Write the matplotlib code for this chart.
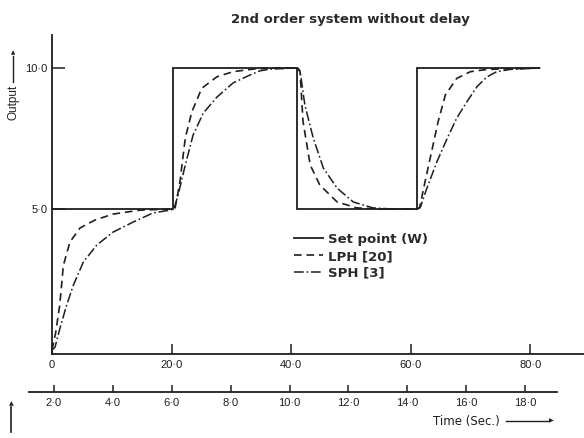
import matplotlib.pyplot as plt

plt.rcParams['lines.scale_dashes'] = False

# set point: levels held between switching instants
sp_edges = [0, 20.2, 41.0, 61.0, 81.7]
sp_levels = [5.0, 10.0, 5.0, 10.0]

# long prediction horizon response
lph_t = [0, 0.6, 1.3, 1.9, 3.0, 4.7, 7.2, 10.2, 14.7, 20.3,
         20.6, 21.4, 22.3, 23.4, 25.05, 27.6, 30.3, 33.6, 37.0, 41.1,
         41.5, 42.0, 43.2, 44.8, 47.7, 51.0, 54.9, 61.1,
         61.5, 62.4, 63.5, 64.6, 65.8, 67.7, 70.0, 72.8, 81.7]
lph_y = [0, 0.6, 1.6, 3.0, 3.83, 4.33, 4.61, 4.82, 4.96, 5.0,
         5.04, 5.96, 7.52, 8.45, 9.28, 9.69, 9.87, 9.96, 10.0, 10.0,
         9.86, 8.09, 6.56, 5.85, 5.25, 5.04, 5.0, 5.0,
         5.05, 5.96, 7.03, 8.1, 9.04, 9.63, 9.87, 9.95, 10.0]

# short prediction horizon response
sph_t = [0, 0.5, 1.34, 2.46, 3.57, 5.24, 7.48, 10.2, 13.6, 16.9, 19.7,
         20.4, 21.1, 22.3, 23.6, 25.3, 27.6, 30.3, 33.1, 34.8, 36.5, 41.1,
         41.5, 42.3, 43.7, 45.4, 47.7, 50.4, 53.7, 57.1, 61.1,
         61.6, 62.7, 64.4, 66.1, 67.7, 69.4, 71.1, 72.8, 74.4, 76.7, 81.7]
sph_y = [0, 0.1, 0.78, 1.6, 2.3, 3.12, 3.72, 4.18, 4.54, 4.86, 4.96,
         5.0, 5.5, 6.56, 7.62, 8.4, 8.97, 9.47, 9.75, 9.9, 9.96, 10.0,
         9.9, 8.69, 7.52, 6.45, 5.74, 5.25, 5.04, 5.0, 5.0,
         5.05, 5.73, 6.68, 7.5, 8.22, 8.8, 9.34, 9.69, 9.87, 9.95, 10.0]

top_ticks = [0, 20, 40, 60, 80]
top_labels = ['0', '20·0', '40·0', '60·0', '80·0']
y_ticks = [5, 10]
y_labels = ['5·0', '10·0']
time_ticks = [2, 4, 6, 8, 10, 12, 14, 16, 18]
time_labels = ['2·0', '4·0', '6·0', '8·0', '10·0', '12·0', '14·0', '16·0', '18·0']

INK = '#1e1e1e'
NUM_FONT = ['Liberation Sans Narrow', 'Liberation Sans', 'DejaVu Sans']
W, H = 584, 438


def fx(px):
    return px / W


def fy(py):
    return 1 - py / H


fig = plt.figure(figsize=(5.84, 4.38), dpi=100)

ax = fig.add_axes([fx(52), fy(354), fx(584) - fx(52), fy(35) - fy(354)])
ax.set_xlim(0, 89.0)
ax.set_ylim(-0.14, 11.17)
ax.patch.set_alpha(0)
for side in ('top', 'right'):
    ax.spines[side].set_visible(False)
for side in ('left', 'bottom'):
    ax.spines[side].set_linewidth(1.3)
    ax.spines[side].set_color(INK)

ax.stairs(sp_levels, sp_edges, baseline=None, color=INK, lw=1.3,
          label='Set point (W)')
ax.plot(lph_t, lph_y, color=INK, lw=1.2, linestyle=(0, (5.5, 3.5)),
        label='LPH [20]')
ax.plot(sph_t, sph_y, color=INK, lw=1.1,
        linestyle=(0, (7, 2, 1.2, 2)), label='SPH [3]')

ax.set_xticks(top_ticks, top_labels)
ax.set_yticks(y_ticks, y_labels)
ax.tick_params(axis='x', direction='in', length=7, width=1.1, pad=4,
               colors=INK, labelsize=8)
ax.tick_params(axis='y', direction='in', length=9, width=1.1, pad=3,
               colors=INK, labelsize=8)
for lab in ax.get_xticklabels() + ax.get_yticklabels():
    lab.set_family(NUM_FONT)

leg = ax.legend(loc='upper left', bbox_to_anchor=(fx(294), fy(233)),
                bbox_transform=fig.transFigure, frameon=False,
                prop={'size': 9.5, 'weight': 'bold'},
                handlelength=2.2, handletextpad=0.35, labelspacing=0.3,
                borderpad=0, borderaxespad=0, labelcolor='#2a2a2a')

# time axis in seconds underneath
tax = fig.add_axes([fx(29), fy(392), fx(557) - fx(29), 0.0005])
tax.set_xlim(1.151, 19.086)
tax.set_yticks([])
tax.patch.set_alpha(0)
for side in ('top', 'right', 'left'):
    tax.spines[side].set_visible(False)
tax.spines['bottom'].set_linewidth(1.3)
tax.spines['bottom'].set_color(INK)
tax.set_xticks(time_ticks, time_labels)
tax.tick_params(axis='x', direction='in', length=5, width=1.1, pad=4,
                colors=INK, labelsize=8)
for lab in tax.get_xticklabels():
    lab.set_family(NUM_FONT)

fig.text(fx(350), fy(20), '2nd order system without delay', ha='center',
         va='center', fontsize=9.5, fontweight='bold', color='#2a2a2a')

fig.text(fx(13), fy(102), 'Output', rotation=90, ha='center', va='center',
         fontsize=8.5, color=INK, family=NUM_FONT)
fig.add_artist(plt.Line2D([fx(13), fx(13)], [fy(82), fy(56)], color=INK,
                          lw=1.0))
fig.text(fx(13), fy(53), '▲', ha='center', va='center', fontsize=4,
         color=INK)

fig.text(fx(466), fy(422), 'Time (Sec.)', ha='center', va='center',
         fontsize=8.5, color=INK)
fig.add_artist(plt.Line2D([fx(506), fx(548)], [fy(421), fy(421)], color=INK,
                          lw=1.0))
fig.text(fx(551), fy(421), '▶', ha='center', va='center', fontsize=4.5,
         color=INK)

fig.add_artist(plt.Line2D([fx(11), fx(11)], [fy(432), fy(407)], color=INK,
                          lw=1.2))
fig.text(fx(11), fy(404), '▲', ha='center', va='center', fontsize=4.5,
         color=INK)

fig.savefig('out.png', dpi=100)
